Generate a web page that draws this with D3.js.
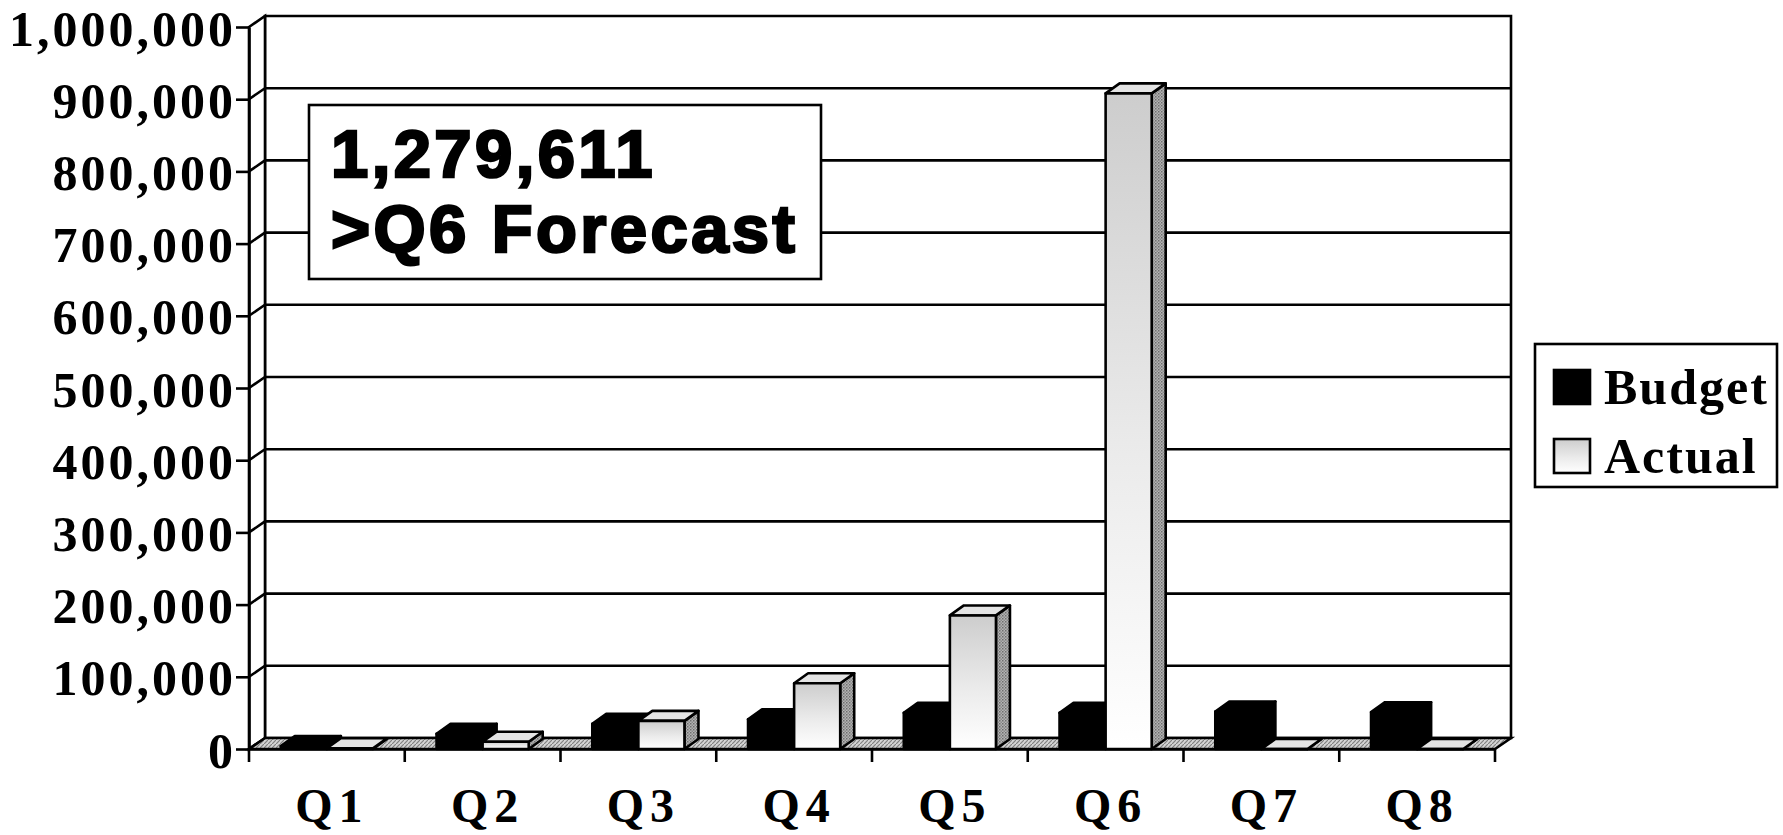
<!DOCTYPE html>
<html><head><meta charset="utf-8">
<script src="https://cdn.jsdelivr.net/npm/d3@7"></script>
<style>body{margin:0;background:#fff}svg{display:block}</style>
</head><body>
<svg id="chart" width="1783" height="835"></svg>
<script>
// Quarterly budget vs. actual, drawn as 3D clustered columns
const categories = ["Q1", "Q2", "Q3", "Q4", "Q5", "Q6", "Q7", "Q8"];
const seriesNames = ["Budget", "Actual"];
const budget = [4000, 21000, 35000, 41000, 50000, 50000, 52000, 51000];
const actual = [1000, 10000, 39000, 91000, 185000, 908000, 0, 0];
const yTicks = [0, 100000, 200000, 300000, 400000, 500000, 600000, 700000, 800000, 900000, 1000000];
const calloutLines = ["1,279,611", ">Q6 Forecast"];

const svg = d3.select("#chart");
const plot = {left: 249, right: 1495, top: 27, bottom: 749};
const wall = {dx: 16, dy: -11};
const depth = {dx: 14, dy: -10};
const LW = 2.6;

const x = d3.scaleBand().domain(categories).range([plot.left, plot.right]).paddingInner(0).paddingOuter(0);
const xs = d3.scaleBand().domain(seriesNames).range([0, x.bandwidth()]).paddingInner(0).paddingOuter(0.69);
const y = d3.scaleLinear().domain([0, 1000000]).range([plot.bottom, plot.top]);
const values = {Budget: budget, Actual: actual};

// textures
const defs = svg.append("defs");
const floorPat = defs.append("pattern").attr("id", "floorTex").attr("patternUnits", "userSpaceOnUse").attr("width", 4).attr("height", 4);
floorPat.append("rect").attr("width", 4).attr("height", 4).attr("fill", "#d4d4d4");
floorPat.append("path").attr("d", "M0,4L4,0").attr("stroke", "#808080").attr("stroke-width", 1.2);
const sidePat = defs.append("pattern").attr("id", "sideTex").attr("patternUnits", "userSpaceOnUse").attr("width", 3).attr("height", 3);
sidePat.append("rect").attr("width", 3).attr("height", 3).attr("fill", "#b4b4b4");
sidePat.append("rect").attr("width", 1.5).attr("height", 1.5).attr("fill", "#6e6e6e");
sidePat.append("rect").attr("x", 1.5).attr("y", 1.5).attr("width", 1.5).attr("height", 1.5).attr("fill", "#8a8a8a");
const frontGrad = defs.append("linearGradient").attr("id", "frontFill").attr("x1", 0).attr("y1", 0).attr("x2", 0).attr("y2", 1);
frontGrad.append("stop").attr("offset", "0").attr("stop-color", "#cdcdcd");
frontGrad.append("stop").attr("offset", "0.55").attr("stop-color", "#ebebeb");
frontGrad.append("stop").attr("offset", "1").attr("stop-color", "#ffffff");

const poly = pts => "M" + pts.map(p => p.join(",")).join("L") + "Z";
const g = svg.append("g");

// back wall and side wall
const bx0 = plot.left + wall.dx, bx1 = plot.right + wall.dx;
const yb = v => y(v) + wall.dy;
g.append("path").attr("d", poly([[bx0, yb(1000000)], [bx1, yb(1000000)], [bx1, yb(0)], [bx0, yb(0)]]))
  .attr("fill", "#fff").attr("stroke", "#000").attr("stroke-width", LW);
g.append("path").attr("d", poly([[plot.left, y(1000000)], [bx0, yb(1000000)], [bx0, yb(0)], [plot.left, y(0)]]))
  .attr("fill", "#fff").attr("stroke", "#000").attr("stroke-width", LW);

// gridlines across the walls
const grid = g.append("g").attr("fill", "none").attr("stroke", "#000").attr("stroke-width", LW);
grid.selectAll("path").data(yTicks.filter(v => v > 0 && v < 1000000)).join("path")
  .attr("d", v => `M${plot.left},${y(v)}L${bx0},${yb(v)}L${bx1},${yb(v)}`);

// floor
g.append("path").attr("d", poly([[plot.left, y(0)], [plot.right, y(0)], [bx1, yb(0)], [bx0, yb(0)]]))
  .attr("fill", "url(#floorTex)").attr("stroke", "#000").attr("stroke-width", LW);

// columns, left to right so each one hides its neighbour's side face
const bars = g.append("g").attr("stroke", "#000").attr("stroke-width", LW).attr("stroke-linejoin", "round");
categories.forEach((c, i) => {
  seriesNames.forEach(s => {
    const v = values[s][i];
    const x0 = x(c) + xs(s), w = xs.bandwidth();
    const yt = y(v), y0 = y(0);
    const dark = s === "Budget";
    const b = bars.append("g");
    b.append("path").attr("d", poly([[x0 + w, y0], [x0 + w + depth.dx, y0 + depth.dy], [x0 + w + depth.dx, yt + depth.dy], [x0 + w, yt]]))
      .attr("fill", dark ? "#000" : "url(#sideTex)");
    b.append("path").attr("d", poly([[x0, yt], [x0 + w, yt], [x0 + w + depth.dx, yt + depth.dy], [x0 + depth.dx, yt + depth.dy]]))
      .attr("fill", dark ? "#000" : "#e4e4e4");
    b.append("path").attr("d", poly([[x0, y0], [x0 + w, y0], [x0 + w, yt], [x0, yt]]))
      .attr("fill", dark ? "#000" : "url(#frontFill)");
  });
});

// value axis
const yAxis = d3.axisLeft(y).tickValues(yTicks).tickFormat(d3.format(",")).tickSize(13).tickSizeOuter(0).tickPadding(0);
const ya = g.append("g").attr("transform", `translate(${plot.left},0)`).call(yAxis);
ya.selectAll("path,line").attr("stroke", "#000").attr("stroke-width", LW);
ya.selectAll("text").attr("fill", "#000").attr("font-family", "'Liberation Serif', 'Times New Roman', serif")
  .attr("font-weight", "bold").attr("font-size", 50).attr("letter-spacing", "3px").attr("dy", "0.36em");

// category axis: boundary ticks and centred labels
const xa = g.append("g").attr("transform", `translate(0,${plot.bottom})`)
  .call(d3.axisBottom(x).tickSize(0).tickSizeOuter(0).tickPadding(39));
xa.select(".domain").attr("stroke", "#000").attr("stroke-width", LW);
xa.selectAll("text").attr("fill", "#000").attr("font-family", "'Liberation Serif', 'Times New Roman', serif")
  .attr("font-weight", "bold").attr("font-size", 48).attr("letter-spacing", "6px").attr("dx", 5);
const bounds = categories.map(c => x(c)).concat([plot.right]);
xa.selectAll("line.bound").data(bounds).join("line").attr("class", "bound")
  .attr("x1", d => d).attr("x2", d => d).attr("y1", 0).attr("y2", 13)
  .attr("stroke", "#000").attr("stroke-width", LW);

// callout box
const callout = svg.append("g");
callout.append("rect").attr("x", 309).attr("y", 105).attr("width", 512).attr("height", 174)
  .attr("fill", "#fff").attr("stroke", "#000").attr("stroke-width", LW);
callout.append("text")
  .attr("font-family", "'Liberation Sans', Arial, sans-serif").attr("font-weight", "bold")
  .attr("font-size", 67).attr("letter-spacing", "3.4px")
  .attr("fill", "#000").attr("stroke", "#000").attr("stroke-width", 2.6)
  .selectAll("tspan").data(calloutLines).join("tspan")
  .attr("x", 331).attr("y", (d, i) => 177 + i * 75)
  .text(d => d);

// legend
const legend = svg.append("g");
legend.append("rect").attr("x", 1535).attr("y", 344).attr("width", 242).attr("height", 143)
  .attr("fill", "#fff").attr("stroke", "#000").attr("stroke-width", LW);
const items = legend.selectAll("g.item").data(seriesNames).join("g").attr("class", "item")
  .attr("transform", (d, i) => `translate(1554,${370 + i * 69})`);
items.append("rect").attr("width", 36).attr("height", 34)
  .attr("fill", d => d === "Budget" ? "#000" : "url(#frontFill)").attr("stroke", "#000").attr("stroke-width", LW);
items.append("text").attr("x", 50).attr("y", 34)
  .attr("font-family", "'Liberation Serif', 'Times New Roman', serif").attr("font-weight", "bold")
  .attr("font-size", 50).attr("letter-spacing", "2px").attr("fill", "#000")
  .text(d => d);
</script>
</body></html>
